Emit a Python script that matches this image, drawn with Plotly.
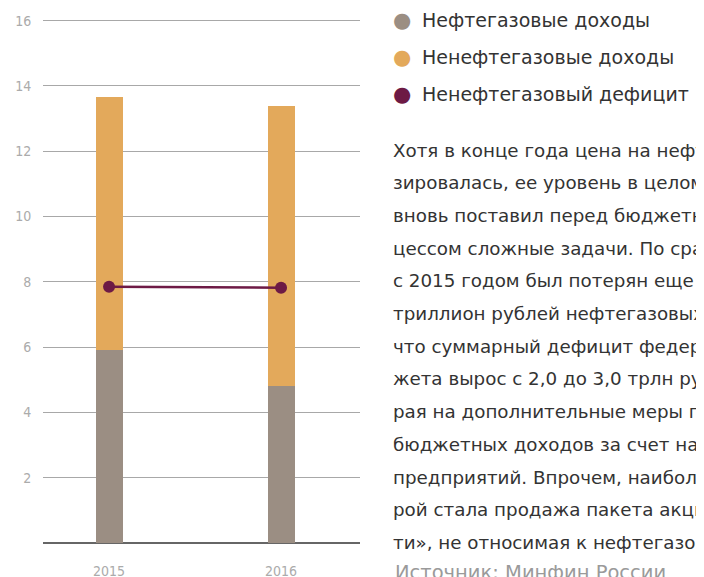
import plotly.graph_objects as go

# data (трлн руб.)
years = [2015, 2016]
oil_gas = [5.9, 4.8]
non_oil_gas = [7.75, 8.6]
non_oil_deficit = [7.85, 7.82]
y_ticks = [2, 4, 6, 8, 10, 12, 14, 16]

legend_items = [
    ("Нефтегазовые доходы", "#9b8e83"),
    ("Ненефтегазовые доходы", "#e3a95b"),
    ("Ненефтегазовый дефицит", "#6d1a45"),
]

body_lines = [
    "Хотя в конце года цена на нефть стабили-",
    "зировалась, ее уровень в целом за год",
    "вновь поставил перед бюджетным про-",
    "цессом сложные задачи. По сравнению",
    "с 2015 годом был потерян еще один",
    "триллион рублей нефтегазовых доходов,",
    "что суммарный дефицит федерального бюд-",
    "жета вырос с 2,0 до 3,0 трлн рублей, кото-",
    "рая на дополнительные меры по увеличению",
    "бюджетных доходов за счет налогов",
    "предприятий. Впрочем, наиболее значимой",
    "рой стала продажа пакета акций «Роснеф-",
    "ти», не относимая к нефтегазовым доходам.",
]
source = "Источник: Минфин России"

# the page body has an 8px margin, so the figure is drawn 8px in from the corner
OFF = 8
W, H = 704 - OFF, 577 - OFF
L, R, T, B = 43 - OFF, 360 - OFF, 19 - OFF, 543 - OFF


def px(x):
    return (x - OFF - L) / (R - L)


def py(y):
    return (B - (y - OFF)) / (B - T)


fig = go.Figure()
fig.add_trace(go.Bar(x=years, y=oil_gas, marker_color=legend_items[0][1],
                     width=0.157, marker_line_width=0))
fig.add_trace(go.Bar(x=years, y=non_oil_gas, marker_color=legend_items[1][1],
                     width=0.157, marker_line_width=0))
fig.add_trace(go.Scatter(x=years, y=non_oil_deficit, mode="lines+markers",
                         line=dict(color=legend_items[2][1], width=2.5),
                         marker=dict(size=12, color=legend_items[2][1])))

text_font = "DejaVu Sans, sans-serif"

for i, (label, color) in enumerate(legend_items):
    yy = py(20 + i * 37)
    fig.add_annotation(x=px(402), y=yy, xref="paper", yref="paper", text="●",
                       showarrow=False, font=dict(size=21, color=color,
                                                  family="DejaVu Sans"),
                       xanchor="center", yanchor="middle")
    fig.add_annotation(x=px(420), y=yy, xref="paper", yref="paper", text=label,
                       showarrow=False, font=dict(size=19, color="#333333",
                                                  family=text_font),
                       xanchor="left", yanchor="middle")

for i, line in enumerate(body_lines):
    fig.add_annotation(x=px(391), y=py(150 + i * 32.7), xref="paper", yref="paper",
                       text=line, showarrow=False,
                       font=dict(size=18.3, color="#333333", family=text_font),
                       xanchor="left", yanchor="middle")

fig.add_annotation(x=px(393), y=py(572), xref="paper", yref="paper", text=source,
                   showarrow=False, font=dict(size=19.5, color="#9a9a9a", family=text_font),
                   xanchor="left", yanchor="middle")

tick_font = dict(family="DejaVu Sans Condensed, Liberation Sans Narrow, sans-serif",
                 size=14, color="#ababab")

fig.update_layout(
    width=W, height=H,
    margin=dict(l=L, r=W - R, t=T, b=H - B, pad=0),
    barmode="stack",
    showlegend=False,
    plot_bgcolor="white",
    paper_bgcolor="white",
    xaxis=dict(range=[2014.616, 2016.459], tickvals=years,
               ticktext=[str(y) for y in years], showgrid=False, zeroline=False,
               showline=False, tickfont=tick_font, ticks="outside",
               ticklen=15, tickcolor="rgba(0,0,0,0)", fixedrange=True,
               automargin=False),
    yaxis=dict(range=[0, 16.05], tickvals=y_ticks, showgrid=True, gridcolor="#a8a8a8",
               gridwidth=1, zeroline=True, zerolinecolor="#666666", zerolinewidth=2,
               tickfont=tick_font, ticks="outside", ticklen=8,
               tickcolor="rgba(0,0,0,0)", fixedrange=True, automargin=False),
)

fig.write_html("out.html")
